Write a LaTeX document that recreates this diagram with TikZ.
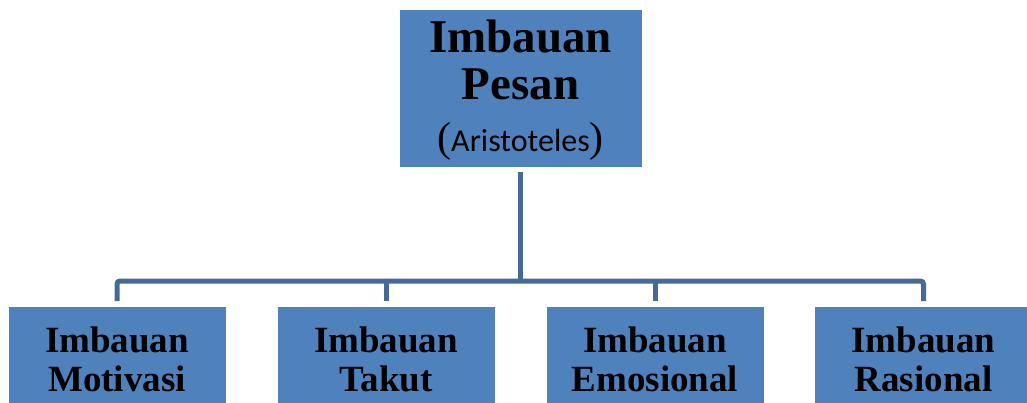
\documentclass[tikz,border=0pt]{standalone}
\usepackage{fontspec}
\setmainfont{Liberation Serif}
\newfontfamily\carlito{Carlito}
\usetikzlibrary{positioning}
\definecolor{boxblue}{RGB}{79,129,189}
\definecolor{linkblue}{RGB}{70,106,152}
\tikzset{
  box/.style={fill=boxblue,draw=none,inner sep=0pt,align=center,text=black},
  topbox/.style={box,minimum width=242pt,minimum height=157pt,
    font=\fontsize{47}{47}\selectfont\bfseries},
  subbox/.style={box,minimum width=217pt,anchor=north,
    font=\fontsize{37}{39}\selectfont\bfseries},
  link/.style={draw=linkblue,line width=5pt,rounded corners=3pt}
}
\newcommand{\subtext}[1]{\rule{0pt}{45pt}Imbauan\\#1\rule[-40pt]{0pt}{40pt}}
\begin{document}
\begin{tikzpicture}[x=1pt,y=-1pt]
  \useasboundingbox (0,0) rectangle (1027,403);
  \begin{scope}
  \clip (0,0) rectangle (1027,403);
  \node[topbox,anchor=north] (top) at (520.5,10)
     {\rule{0pt}{35pt}Imbauan\\Pesan\\[5pt]{\fontsize{42}{42}\selectfont\mdseries(\carlito\fontsize{32}{32}\selectfont Aristoteles\fontsize{42}{42}\selectfont\rmfamily)}};
  \node[subbox] (motivasi) at (117,307) {\subtext{Motivasi}};
  \node[subbox] (takut) at (386,307) {\subtext{Takut}};
  \node[subbox] (emosional) at (655,307) {\subtext{Emosional}};
  \node[subbox] (rasional) at (923.5,307) {\subtext{Rasional}};
  \end{scope}
  \coordinate (bus) at (520.5,281);
  % tree connectors
  \draw[link] ([yshift=-5pt]top.south) -- (top.south |- bus);
  \draw[link] ([yshift=6pt]motivasi.north) |- (bus) -| ([yshift=6pt]rasional.north);
  \draw[link] ([yshift=6pt]takut.north) -- (takut.north |- bus);
  \draw[link] ([yshift=6pt]emosional.north) -- (emosional.north |- bus);
\end{tikzpicture}
\end{document}
